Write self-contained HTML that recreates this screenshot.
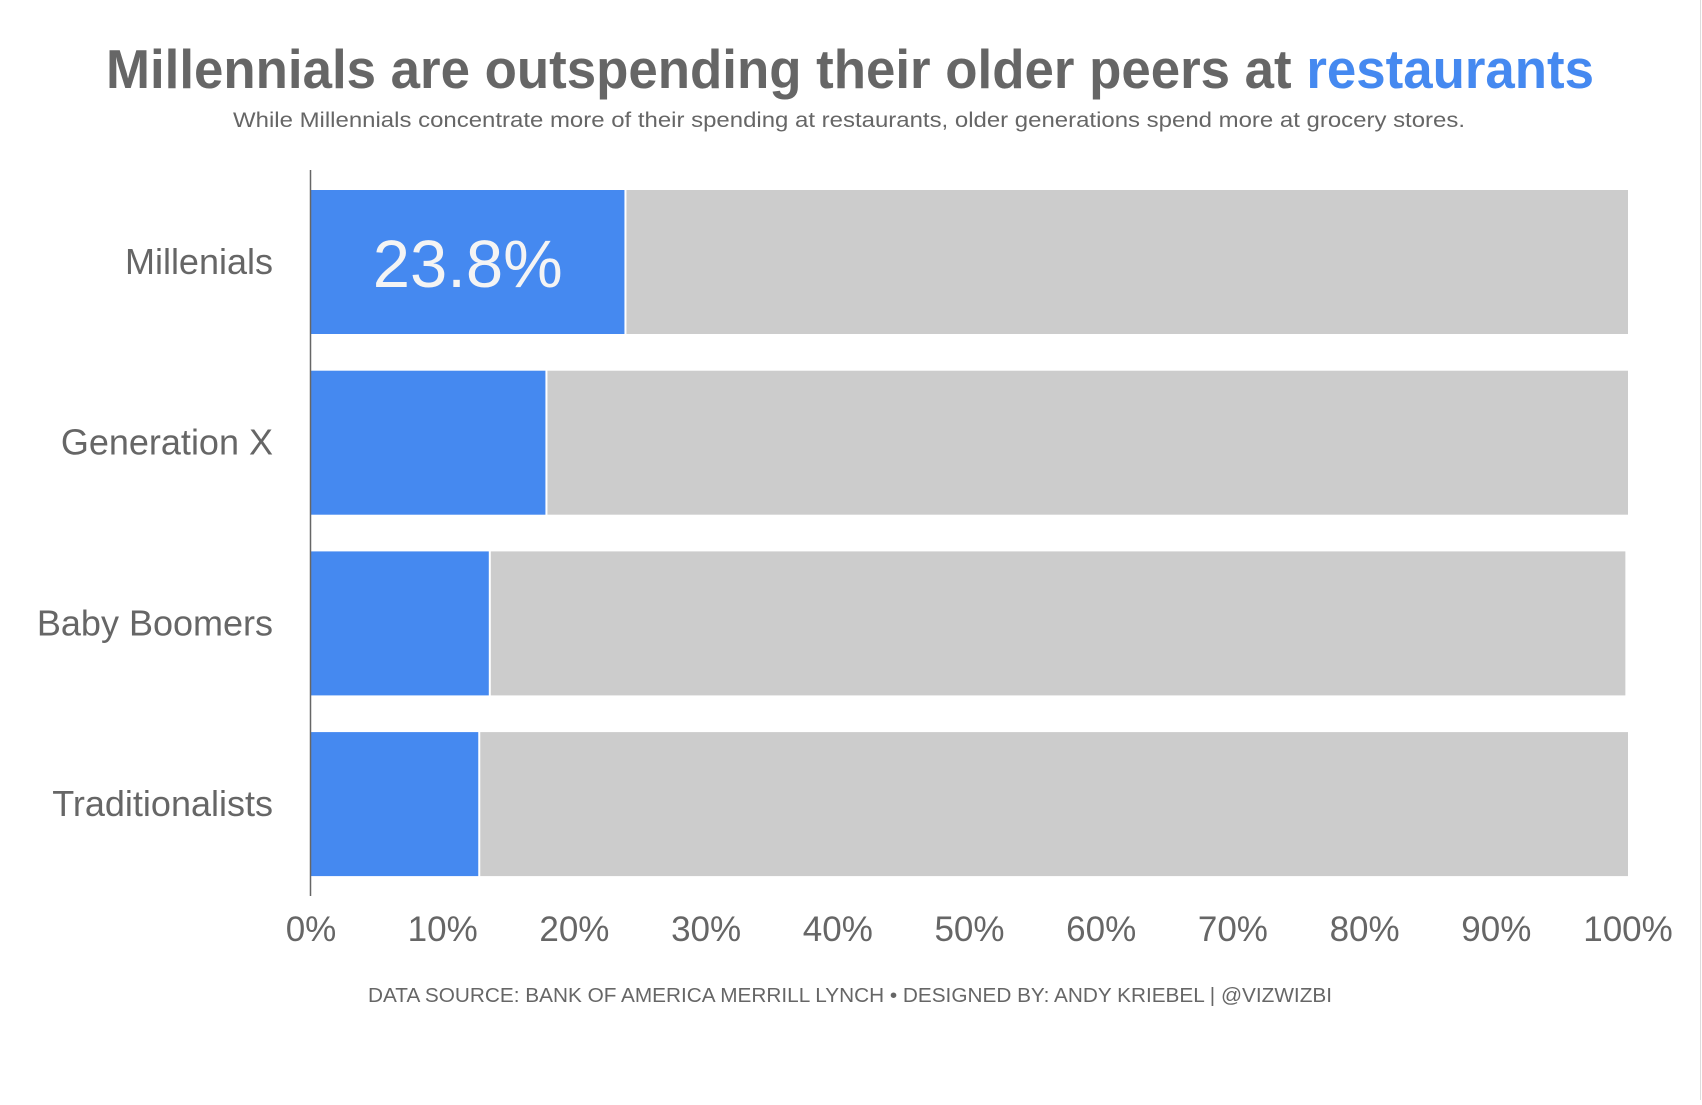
<!DOCTYPE html>
<html><head><meta charset="utf-8"><style>
body{margin:0;background:#fff;}
svg text{font-family:"Liberation Sans",sans-serif;fill:#666;}
</style></head><body>
<svg id="chart" width="1702" height="1100" viewBox="0 0 1702 1100" xmlns="http://www.w3.org/2000/svg">
<text x="850" y="88" text-anchor="middle" font-size="55" font-weight="bold" textLength="1488" lengthAdjust="spacingAndGlyphs">Millennials are outspending their older peers at <tspan style="fill:#4589F0">restaurants</tspan></text>
<text x="849" y="127" text-anchor="middle" font-size="21.5" textLength="1232" lengthAdjust="spacingAndGlyphs">While Millennials concentrate more of their spending at restaurants, older generations spend more at grocery stores.</text>
<g id="bars"></g>
<line x1="310.5" y1="170" x2="310.5" y2="896" stroke="#666" stroke-width="1.5"/>
<g id="ticks"></g>
<text x="850" y="1002" text-anchor="middle" font-size="20" textLength="964" lengthAdjust="spacingAndGlyphs">DATA SOURCE: BANK OF AMERICA MERRILL LYNCH  •  DESIGNED BY: ANDY KRIEBEL | @VIZWIZBI</text>
<line x1="1700.5" y1="0" x2="1700.5" y2="1100" stroke="#ddd" stroke-width="1"/>
</svg>
<script>
const categories = ["Millenials","Generation X","Baby Boomers","Traditionalists"];
const restaurantShare = [23.8, 17.8, 13.5, 12.7];
const otherShare = [76.2, 82.2, 86.3, 87.3];
const tickValues = [0,10,20,30,40,50,60,70,80,90,100];
const tickLabels = ["0%","10%","20%","30%","40%","50%","60%","70%","80%","90%","100%"];

const NS="http://www.w3.org/2000/svg";
const x0=311, x1=1628;
const xs=v=>x0+(x1-x0)*v/100;
const top0=190, pitch=180.7, bh=144;
const ys=i=>top0+i*pitch;
const bars=document.getElementById('bars');
function mk(tag,attrs){const e=document.createElementNS(NS,tag);for(const k in attrs)e.setAttribute(k,attrs[k]);return e;}
categories.forEach((c,i)=>{
  const y=ys(i);
  const b=mk('rect',{x:xs(0),y:y,width:xs(restaurantShare[i])-xs(0),height:bh,fill:'#4589F0'});
  
  
  bars.appendChild(b);
  const g=mk('rect',{x:xs(restaurantShare[i])+2,y:y,width:xs(restaurantShare[i]+otherShare[i])-xs(restaurantShare[i])-2,height:bh,fill:'#CCCCCC'});
  
  
  bars.appendChild(g);
  const t=mk('text',{x:273,y:y+bh/2+12,'text-anchor':'end','font-size':'36'});
  t.textContent=c;
  
  
  bars.appendChild(t);
  if(i===0){
    const v=mk('text',{x:(xs(0)+xs(restaurantShare[i]))/2,y:y+bh/2+25,'text-anchor':'middle','font-size':'67',style:'fill:#f4f4f4'});
    v.textContent=restaurantShare[i].toFixed(1)+'%';
    
    
    bars.appendChild(v);
  }
});
const ticks=document.getElementById('ticks');
tickValues.forEach((v,i)=>{
  const t=mk('text',{x:xs(v),y:941,'text-anchor':'middle','font-size':'35'});
  t.textContent=tickLabels[i];
  
  
  ticks.appendChild(t);
});
</script>
</body></html>
